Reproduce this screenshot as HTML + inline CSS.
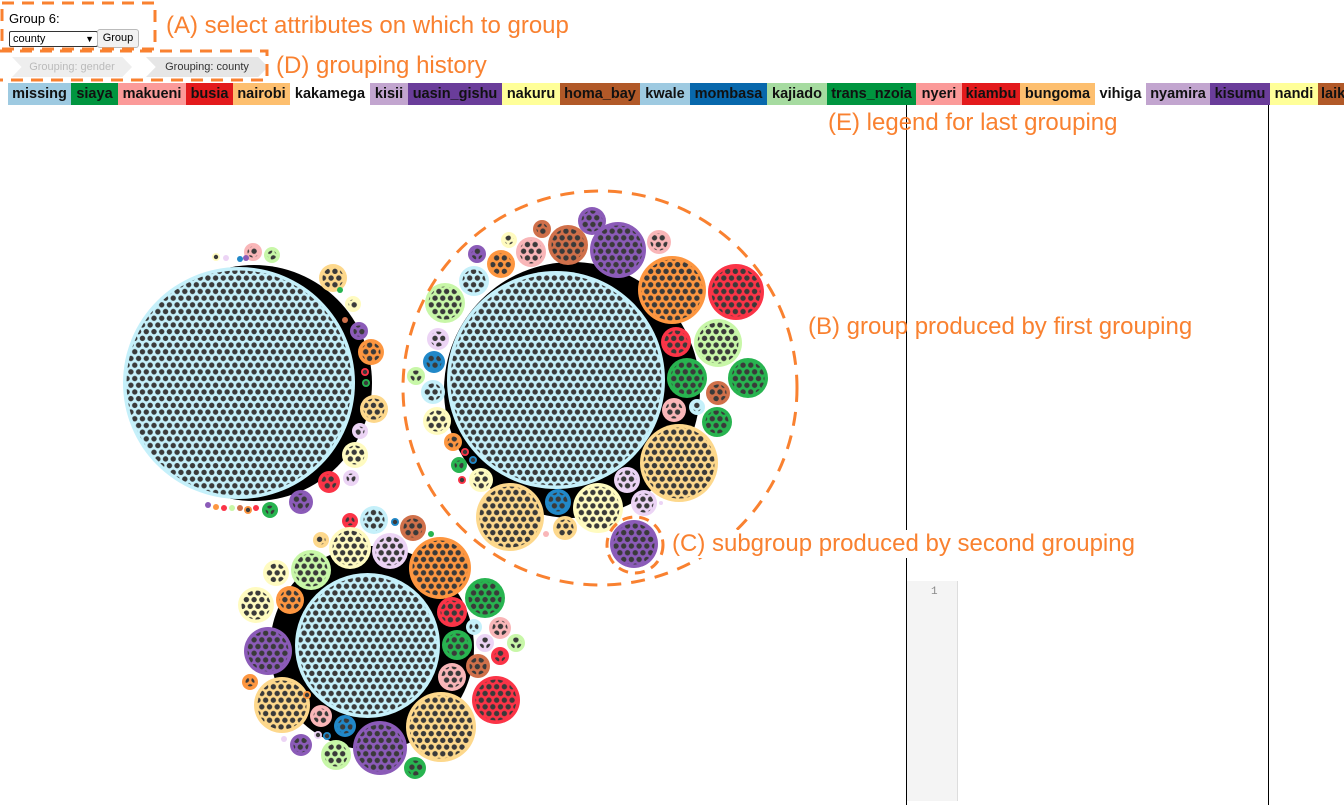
<!DOCTYPE html>
<html><head><meta charset="utf-8"><style>
body{margin:0;width:1344px;height:801px;overflow:hidden;background:#fff;font-family:"Liberation Sans",Arial,sans-serif;position:relative}
.ab{position:absolute}
.ann{position:absolute;color:#f98130;font-size:24px;white-space:nowrap;line-height:1}
.lg{position:absolute;top:83px;height:22px;font-weight:bold;font-size:14.5px;line-height:22px;text-align:center;color:#111}
.crumb{position:absolute;top:57px;height:20px;font-size:11px;line-height:20px;background:#eee;clip-path:polygon(0 0,92% 0,100% 50%,92% 100%,0 100%,8% 50%)}
</style></head><body>
<div class="ab" style="left:9px;top:11px;font-size:13px">Group 6:</div>
<div class="ab" style="left:9px;top:31px;width:84px;height:14px;border:1px solid #333;border-radius:2px;font-size:11px;line-height:14px;padding-left:3px;box-sizing:content-box">county<span style="position:absolute;right:3px;font-size:9px">&#9660;</span></div>
<div class="ab" style="left:97px;top:29px;width:40px;height:17px;border:1px solid #bbb;border-radius:3px;background:#f2f2f2;font-size:11px;line-height:17px;text-align:center">Group</div>
<div class="crumb" style="left:12px;width:120px;color:#bbb;text-align:center">Grouping: gender</div>
<div class="crumb" style="left:146px;width:122px;color:#333;text-align:center;background:#e6e6e6">Grouping: county</div>
<svg class="ab" style="left:0;top:0" width="1344" height="801">
<rect x="2" y="3" width="153" height="46" fill="none" stroke="#f98130" stroke-width="3" stroke-dasharray="12 8"/>
<polyline points="0,51 267,51 267,80 0,80" fill="none" stroke="#f98130" stroke-width="3" stroke-dasharray="12 8"/>
</svg>
<div class="ann" style="left:166px;top:14px">(A) select attributes on which to group</div>
<div class="ann" style="left:276px;top:54px">(D) grouping history</div>
<div id="legend"></div>
<div class="ab" style="left:906px;top:105px;width:361px;height:700px;border-left:1px solid #000;border-right:1px solid #000"></div>
<div class="ab" style="left:907px;top:581px;width:50px;height:220px;background:#f4f4f4;border-right:1px solid #ddd"></div>
<div class="ab" style="left:931px;top:586px;font-size:11px;color:#888;font-family:'Liberation Mono',monospace">1</div>
<svg id="viz" class="ab" style="left:0;top:0" width="1344" height="801"></svg>
<div class="ann" style="left:828px;top:111px">(E) legend for last grouping</div>
<div class="ann" style="left:808px;top:315px">(B) group produced by first grouping</div>
<div class="ann" style="left:672px;top:530px;background:#fff;padding:2px 0">(C) subgroup produced by second grouping</div>
<script>
var L=[["missing",8,71,"#9ecae1"],["siaya",71,118,"#00953f"],["makueni",118,186,"#fb9a99"],["busia",186,233,"#e31a1c"],["nairobi",233,290,"#fdbf6f"],["kakamega",290,370,"#fff"],["kisii",370,408,"#c2a5cf"],["uasin_gishu",408,502,"#6a3d9a"],["nakuru",502,560,"#ffff99"],["homa_bay",560,640,"#b15928"],["kwale",640,690,"#9ecae1"],["mombasa",690,767,"#0868ac"],["kajiado",767,827,"#a6dba0"],["trans_nzoia",827,916,"#00953f"],["nyeri",916,962,"#fb9a99"],["kiambu",962,1020,"#e31a1c"],["bungoma",1020,1095,"#fdbf6f"],["vihiga",1095,1146,"#fff"],["nyamira",1146,1210,"#c2a5cf"],["kisumu",1210,1270,"#6a3d9a"],["nandi",1270,1318,"#ffff99"],["laikipia",1318,1400,"#b15928"]];
var h="";L.forEach(function(l){h+='<div class="lg" style="left:'+l[1]+'px;width:'+(l[2]-l[1])+'px;background:'+l[3]+';'+(l[1]==1318?'text-align:left;padding-left:3px;':'')+'">'+l[0]+'</div>'});
document.getElementById("legend").innerHTML=h;
var C={lb:"#c5f0fa",o:"#fd9640",r:"#fb3447",p:"#8b5bb8",g:"#28b450",lg:"#c8f7a8",ly:"#fffbc0",be:"#fdd88c",pk:"#f9b6b8",lv:"#ecd4f5",br:"#d0704a",bl:"#2188c8"};
var s='<defs><pattern id="d" patternUnits="userSpaceOnUse" width="7.7" height="13.4"><circle cx="3.85" cy="3.35" r="2.7" fill="#3a3a3a"/><circle cx="0" cy="10.05" r="2.7" fill="#3a3a3a"/><circle cx="7.7" cy="10.05" r="2.7" fill="#3a3a3a"/></pattern></defs>';
function c(x,y,r,k){s+='<circle cx="'+x+'" cy="'+y+'" r="'+r+'" fill="'+C[k]+'"/>';if(r>6)s+='<circle cx="'+x+'" cy="'+y+'" r="'+(r-3.5)+'" fill="url(#d)"/>';else if(r>3)s+='<circle cx="'+x+'" cy="'+y+'" r="'+(r-1.8)+'" fill="#3a3a3a"/>';}
s+='<circle cx="254" cy="383" r="118" fill="#000"/>';
c(239,383,116,"lb");
[[253,252,9,"pk"],[272,255,8,"lg"],[216,257,4,"ly"],[226,258,3,"lv"],[240,259,3,"bl"],[246,258,3,"p"],[333,278,14,"be"],[353,304,8,"ly"],[359,331,9,"p"],[371,352,13,"o"],[365,372,4,"r"],[366,383,4,"g"],[374,409,14,"be"],[360,431,8,"lv"],[355,455,13,"ly"],[329,482,11,"r"],[351,478,8,"lv"],[301,502,12,"p"],[270,510,8,"g"],[208,505,3,"p"],[216,507,3,"o"],[224,508,3,"r"],[232,508,3,"lg"],[240,508,3,"br"],[248,510,4,"o"],[256,508,3,"r"],[340,290,3,"g"],[345,320,3,"br"]].forEach(function(a){c.apply(null,a)});
s+='<circle cx="572" cy="390" r="128" fill="#000"/>';
c(556,380,109,"lb");
[[592,221,14,"p"],[542,229,9,"br"],[568,245,20,"br"],[618,250,28,"p"],[659,242,12,"pk"],[509,240,8,"ly"],[531,252,15,"pk"],[477,254,9,"p"],[501,264,14,"o"],[672,290,34,"o"],[736,292,28,"r"],[474,281,15,"lb"],[445,303,20,"lg"],[676,342,15,"r"],[718,343,24,"lg"],[438,339,11,"lv"],[434,362,11,"bl"],[416,376,9,"lg"],[687,378,20,"g"],[748,378,20,"g"],[433,392,12,"lb"],[718,393,12,"br"],[674,410,12,"pk"],[697,407,8,"lb"],[717,422,15,"g"],[437,421,14,"ly"],[453,442,9,"o"],[679,463,39,"be"],[465,452,4,"r"],[473,460,4,"bl"],[459,465,8,"g"],[627,480,13,"lv"],[481,480,12,"ly"],[462,480,4,"r"],[510,517,34,"be"],[558,502,13,"bl"],[598,508,25,"ly"],[644,503,13,"lv"],[565,528,12,"be"],[634,544,24,"p"],[546,534,3,"pk"],[661,503,2,"lv"]].forEach(function(a){c.apply(null,a)});
s+='<circle cx="600" cy="388" r="197" fill="none" stroke="#f98130" stroke-width="3" stroke-dasharray="14 10"/>';
s+='<circle cx="635" cy="545" r="28" fill="none" stroke="#f98130" stroke-width="3" stroke-dasharray="10 7"/>';
s+='<circle cx="372" cy="648" r="102" fill="#000"/>';
c(367.5,645.5,72.5,"lb");
[[350,521,8,"r"],[374,520,14,"lb"],[395,522,4,"bl"],[413,528,13,"br"],[431,534,3,"g"],[321,540,8,"be"],[350,548,21,"ly"],[390,551,18,"lv"],[440,568,31,"o"],[311,570,20,"lg"],[276,573,13,"ly"],[485,598,20,"g"],[290,600,14,"o"],[256,605,18,"ly"],[452,612,15,"r"],[474,627,8,"lb"],[500,628,11,"pk"],[268,651,24,"p"],[457,645,15,"g"],[485,643,9,"lv"],[516,643,9,"lg"],[500,656,9,"r"],[478,666,12,"br"],[250,682,8,"o"],[452,677,14,"pk"],[282,705,28,"be"],[496,700,24,"r"],[441,727,35,"be"],[321,716,11,"pk"],[345,726,11,"bl"],[380,748,27,"p"],[301,745,11,"p"],[336,755,15,"lg"],[415,768,11,"g"],[307,695,4,"o"],[318,735,4,"lv"],[327,736,4,"bl"],[284,739,3,"lv"]].forEach(function(a){c.apply(null,a)});
document.getElementById("viz").innerHTML=s;
</script>
</body></html>
